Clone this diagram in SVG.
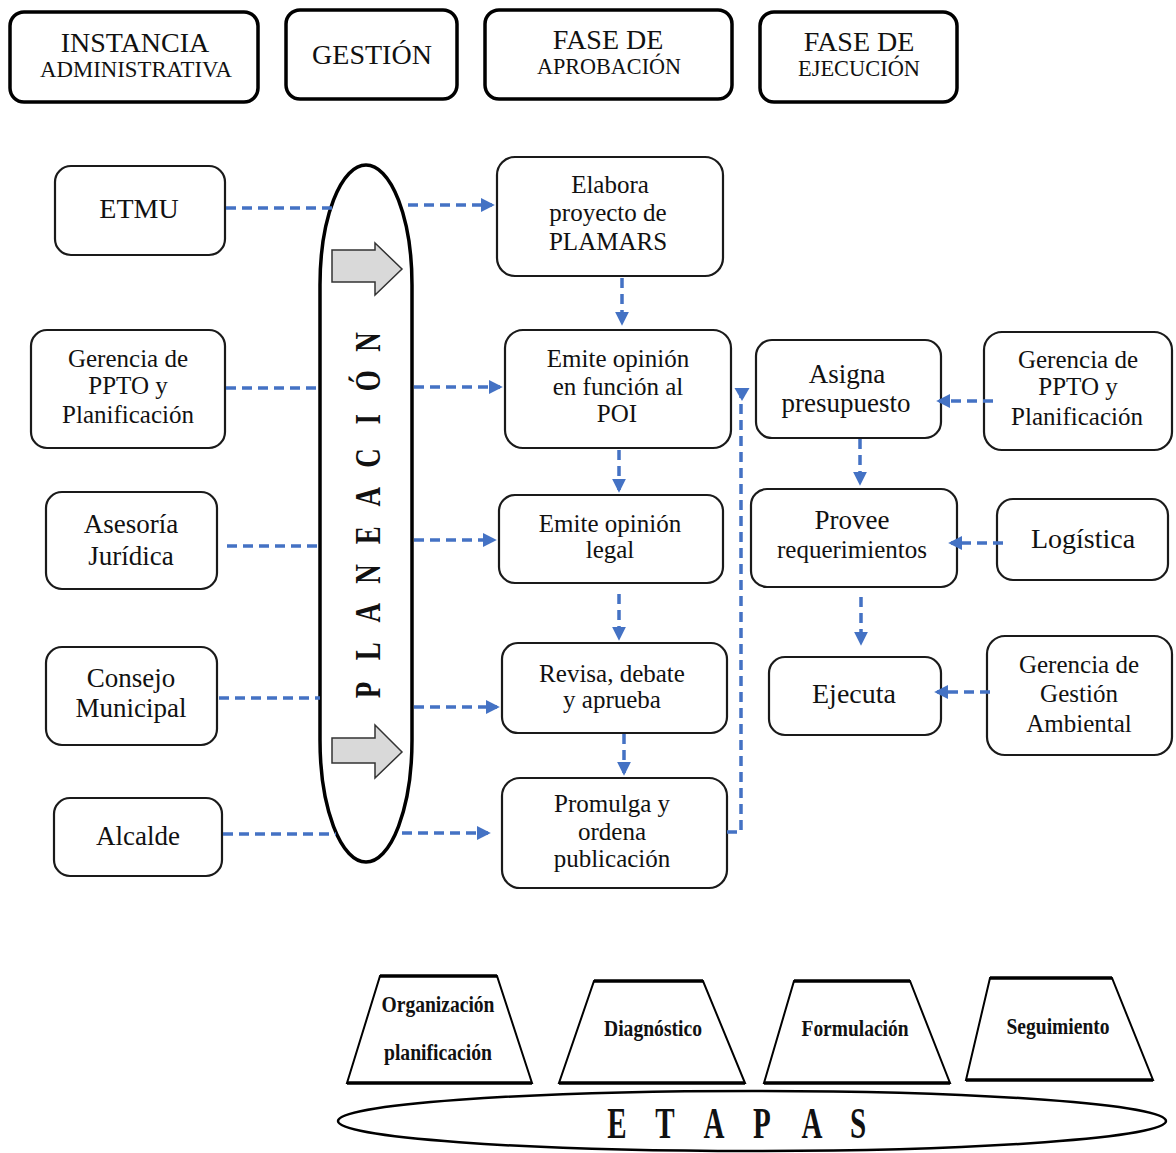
<svg xmlns="http://www.w3.org/2000/svg" width="1176" height="1153" viewBox="0 0 1176 1153">
<style>
.hdr{fill:#fff;stroke:#000;stroke-width:3.5}
.box{fill:#fff;stroke:#1a1a1a;stroke-width:2.2}
.c{fill:none;stroke:#4472C4;stroke-width:3.5;stroke-dasharray:10 6}
.ca{fill:none;stroke:#4472C4;stroke-width:3.5;stroke-dasharray:10 6;marker-end:url(#ah)}
text{font-family:"Liberation Serif","Times New Roman",serif;fill:#111;text-anchor:middle}
.f25{font-size:25px}
.f27{font-size:27px}
.f28{font-size:28px}
.b{font-weight:bold}
.trap{fill:#fff;stroke:#000;stroke-width:2}
.edge{stroke:#000;stroke-width:3.5}
</style>
<defs>
<marker id="ah" viewBox="0 0 10 10" refX="8" refY="5" markerWidth="4" markerHeight="4" orient="auto" markerUnits="strokeWidth">
<path d="M0,0 L10,5 L0,10 z" fill="#4472C4"/>
</marker>
</defs>
<rect width="1176" height="1153" fill="#fff"/>

<g id="h-instancia"><rect class="hdr" x="10" y="12" width="248" height="90" rx="14"/><text class="f28" x="135" y="52">INSTANCIA</text><text x="136" y="77" style="font-size:24px" textLength="192" lengthAdjust="spacingAndGlyphs">ADMINISTRATIVA</text></g>
<g id="h-gestion"><rect class="hdr" x="286" y="10" width="171" height="89" rx="14"/><text class="f28" x="372" y="64">GESTIÓN</text></g>
<g id="h-aprob"><rect class="hdr" x="485" y="10" width="247" height="89" rx="14"/><text class="f28" x="608" y="49">FASE DE</text><text x="609" y="74" style="font-size:24px" textLength="144" lengthAdjust="spacingAndGlyphs">APROBACIÓN</text></g>
<g id="h-ejec"><rect class="hdr" x="760" y="12" width="197" height="90" rx="14"/><text class="f28" x="859" y="51">FASE DE</text><text x="859" y="76" style="font-size:24px" textLength="122" lengthAdjust="spacingAndGlyphs">EJECUCIÓN</text></g>

<g id="n-etmu"><rect class="box" x="55" y="166" width="170" height="89" rx="16"/><text class="f28" x="139" y="218">ETMU</text></g>
<g id="n-ger1"><rect class="box" x="31" y="330" width="194" height="118" rx="16"/><text class="f25" x="128" y="367">Gerencia de</text><text class="f25" x="128" y="394">PPTO y</text><text class="f25" x="128" y="423">Planificación</text></g>
<g id="n-ases"><rect class="box" x="46" y="492" width="171" height="97" rx="16"/><text class="f27" x="131" y="533">Asesoría</text><text class="f27" x="131" y="565">Jurídica</text></g>
<g id="n-cons"><rect class="box" x="46" y="647" width="171" height="98" rx="16"/><text class="f27" x="131" y="687">Consejo</text><text class="f27" x="131" y="717">Municipal</text></g>
<g id="n-alc"><rect class="box" x="54" y="798" width="168" height="78" rx="16"/><text class="f27" x="138" y="845">Alcalde</text></g>

<g id="planeacion">
<path d="M320,285 A46,120 0 0 1 412,285 L412,740 A46,122 0 0 1 320,740 Z" fill="#fff" stroke="#000" stroke-width="3.5"/>
<path d="M332,250 H375 V243 L402,269 L375,295 V282 H332 Z" fill="#d9d9d9" stroke="#333" stroke-width="1.5"/>
<path d="M332,738 H375 V725 L402,752 L375,778 V763 H332 Z" fill="#d9d9d9" stroke="#333" stroke-width="1.5"/>
<text class="b" style="font-size:36px" transform="translate(380,516) rotate(-90) scale(0.75,1)" x="-232 -180.4 -128.9 -77.3 -25.8 25.8 77.3 128.9 180.4 232" y="0">PLANEACIÓN</text>
</g>

<g id="n-elab"><rect class="box" x="497" y="157" width="226" height="119" rx="18"/><text class="f25" x="610" y="193">Elabora</text><text class="f25" x="608" y="221">proyecto de</text><text class="f25" x="608" y="250">PLAMARS</text></g>
<g id="n-poi"><rect class="box" x="505" y="330" width="226" height="118" rx="18"/><text class="f25" x="618" y="367">Emite opinión</text><text class="f25" x="618" y="395">en función al</text><text class="f25" x="617" y="422">POI</text></g>
<g id="n-legal"><rect class="box" x="499" y="495" width="224" height="88" rx="16"/><text class="f25" x="610" y="532">Emite opinión</text><text class="f25" x="610" y="558">legal</text></g>
<g id="n-rev"><rect class="box" x="502" y="643" width="225" height="90" rx="16"/><text class="f25" x="612" y="682">Revisa, debate</text><text class="f25" x="612" y="708">y aprueba</text></g>
<g id="n-prom"><rect class="box" x="502" y="778" width="225" height="110" rx="18"/><text class="f25" x="612" y="812">Promulga y</text><text class="f25" x="612" y="840">ordena</text><text class="f25" x="612" y="867">publicación</text></g>

<g id="n-asig"><rect class="box" x="756" y="340" width="185" height="98" rx="16"/><text class="f27" x="847" y="383">Asigna</text><text class="f27" x="846" y="412">presupuesto</text></g>
<g id="n-prov"><rect class="box" x="751" y="489" width="206" height="98" rx="16"/><text class="f27" x="852" y="529">Provee</text><text class="f25" x="852" y="558" textLength="150" lengthAdjust="spacingAndGlyphs">requerimientos</text></g>
<g id="n-ejec"><rect class="box" x="769" y="657" width="172" height="78" rx="16"/><text class="f28" x="854" y="703">Ejecuta</text></g>
<g id="n-ger2"><rect class="box" x="984" y="332" width="188" height="118" rx="18"/><text class="f25" x="1078" y="368">Gerencia de</text><text class="f25" x="1078" y="395">PPTO y</text><text class="f25" x="1077" y="425">Planificación</text></g>
<g id="n-log"><rect class="box" x="997" y="499" width="171" height="81" rx="16"/><text class="f28" x="1083" y="548">Logística</text></g>
<g id="n-gga"><rect class="box" x="987" y="636" width="185" height="119" rx="18"/><text class="f25" x="1079" y="673">Gerencia de</text><text class="f25" x="1079" y="702">Gestión</text><text class="f25" x="1079" y="732">Ambiental</text></g>

<g id="connectors">
<line class="c" x1="226" y1="208" x2="332" y2="208"/>
<line class="ca" x1="408" y1="205" x2="492" y2="205"/>
<line class="c" x1="226" y1="388" x2="320" y2="388"/>
<line class="ca" x1="414" y1="387" x2="500" y2="387"/>
<line class="c" x1="227" y1="546" x2="320" y2="546"/>
<line class="ca" x1="414" y1="540" x2="494" y2="540"/>
<line class="c" x1="219" y1="698" x2="320" y2="698"/>
<line class="ca" x1="414" y1="707" x2="497" y2="707"/>
<line class="c" x1="223" y1="834" x2="336" y2="834"/>
<line class="ca" x1="402" y1="833" x2="488" y2="833"/>
<line class="ca" x1="622" y1="278" x2="622" y2="323"/>
<line class="ca" x1="619" y1="450" x2="619" y2="490"/>
<line class="ca" x1="619" y1="594" x2="619" y2="638"/>
<line class="ca" x1="624" y1="734" x2="624" y2="773"/>
<path class="c" d="M727,832 H741 V396"/>
<path d="M734.5,388 L749.5,388 L742,401 Z" fill="#4472C4"/>
<line class="ca" x1="993" y1="401" x2="939" y2="401"/>
<line class="ca" x1="860" y1="439" x2="860" y2="483"/>
<line class="ca" x1="1003" y1="543" x2="951" y2="543"/>
<line class="ca" x1="861" y1="597" x2="861" y2="643"/>
<line class="ca" x1="990" y1="692" x2="937" y2="692"/>
</g>

<g id="t-org"><polygon class="trap" points="380,976 497,976 532,1083 347,1083"/><line class="edge" x1="380" y1="976" x2="497" y2="976"/><line class="edge" x1="347" y1="1083" x2="532" y2="1083"/><text class="b" style="font-size:24px" x="438" y="1012" textLength="113" lengthAdjust="spacingAndGlyphs">Organización</text><text class="b" style="font-size:24px" x="438" y="1060" textLength="108" lengthAdjust="spacingAndGlyphs">planificación</text></g>
<g id="t-diag"><polygon class="trap" points="594,981 703,981 745,1083 559,1083"/><line class="edge" x1="594" y1="981" x2="703" y2="981"/><line class="edge" x1="559" y1="1083" x2="745" y2="1083"/><text class="b" style="font-size:24px" x="653" y="1036" textLength="98" lengthAdjust="spacingAndGlyphs">Diagnóstico</text></g>
<g id="t-form"><polygon class="trap" points="794,981 910,981 950,1083 764,1083"/><line class="edge" x1="794" y1="981" x2="910" y2="981"/><line class="edge" x1="764" y1="1083" x2="950" y2="1083"/><text class="b" style="font-size:24px" x="855" y="1036" textLength="107" lengthAdjust="spacingAndGlyphs">Formulación</text></g>
<g id="t-seg"><polygon class="trap" points="990,978 1112,978 1153,1080 966,1080"/><line class="edge" x1="990" y1="978" x2="1112" y2="978"/><line class="edge" x1="966" y1="1080" x2="1153" y2="1080"/><text class="b" style="font-size:24px" x="1058" y="1034" textLength="103" lengthAdjust="spacingAndGlyphs">Seguimiento</text></g>

<g id="etapas">
<ellipse cx="752" cy="1121" rx="414" ry="30" fill="#fff" stroke="#000" stroke-width="2.5"/>
<text class="b" style="font-size:44px" transform="scale(0.66,1)" x="934.8 1007.6 1081.8 1154.5 1230.3 1300" y="1138">ETAPAS</text>
</g>
</svg>
